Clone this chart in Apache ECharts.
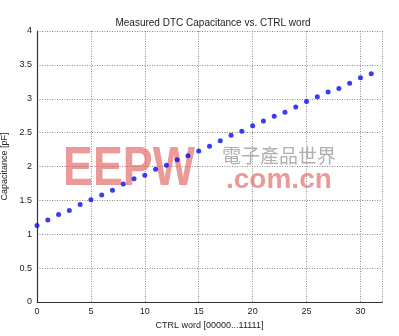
<!DOCTYPE html>
<html>
<head>
<meta charset="utf-8">
<script src="https://cdn.jsdelivr.net/npm/echarts@6/dist/echarts.min.js"></script>
<style>html,body{margin:0;padding:0;background:#fff;}#c{width:399px;height:336px;}</style>
</head>
<body>
<div id="c"></div>
<script>
const ctrlWords = [0,1,2,3,4,5,6,7,8,9,10,11,12,13,14,15,16,17,18,19,20,21,22,23,24,25,26,27,28,29,30,31];
const capacitance = [1.13,1.21,1.29,1.35,1.44,1.51,1.58,1.65,1.74,1.82,1.87,1.96,2.02,2.10,2.16,2.23,2.30,2.38,2.46,2.52,2.60,2.67,2.74,2.80,2.88,2.96,3.03,3.10,3.15,3.23,3.31,3.37];
const xTicks = [0,5,10,15,20,25,30];
const yTicks = [0,0.5,1,1.5,2,2.5,3,3.5,4];

const chart = echarts.init(document.getElementById('c'), null, {renderer:'canvas'});
const font = 'Liberation Sans, Arial, sans-serif';
chart.setOption({
  animation: false,
  title: {
    text: 'Measured DTC Capacitance vs. CTRL word',
    left: 208, top: 13, textAlign: 'center',
    textStyle: {fontSize: 10, fontWeight: 'normal', color: '#222', fontFamily: font}
  },
  grid: {left: 37, right: 17, top: 31, bottom: 34, outerBoundsMode: 'none', containLabel: false},
  xAxis: {
    type: 'value', min: 0, max: 32, interval: 5,
    name: 'CTRL word [00000...11111]', nameLocation: 'middle', nameGap: 19,
    nameTextStyle: {fontSize: 9, color: '#222', fontFamily: font},
    axisLine: {show: true, lineStyle: {color: '#333', width: 1.2}},
    axisTick: {show: false},
    axisLabel: {fontSize: 9, color: '#222', fontFamily: font, margin: 5,
      formatter: v => xTicks.includes(v) ? String(v) : ''},
    splitLine: {show: true, lineStyle: {color: '#8a8a8a', type: [1,1.5], width: 1}}
  },
  yAxis: {
    type: 'value', min: 0, max: 4, interval: 0.5,
    name: 'Capacitance [pF]', nameLocation: 'middle', nameGap: 22, nameRotate: 90,
    nameTextStyle: {fontSize: 9, color: '#222', fontFamily: font},
    axisLine: {show: true, lineStyle: {color: '#333', width: 1.2}},
    axisTick: {show: false},
    axisLabel: {fontSize: 9, color: '#222', fontFamily: font, margin: 5,
      formatter: v => yTicks.includes(v) ? String(v) : ''},
    splitLine: {show: true, lineStyle: {color: '#8a8a8a', type: [1,1.5], width: 1}}
  },
  graphic: [
    {type: 'text', left: 63, top: 142, z: 1, silent: true,
      style: {text: 'EEPW', font: 'bold 56px Liberation Sans, Arial, sans-serif', fill: 'rgba(222,90,90,0.62)'},
      scaleX: 0.8},
    {type: 'text', left: 222, top: 146, z: 1, silent: true,
      style: {text: '電子產品世界', font: '19px "Noto Sans CJK TC"', fill: 'rgba(150,150,150,0.75)'}},
    {type: 'text', left: 226, top: 166, z: 1, silent: true,
      style: {text: '.com.cn', font: 'bold 28px Liberation Sans, Arial, sans-serif', fill: 'rgba(222,90,90,0.62)'}}
  ],
  series: [{
    type: 'scatter', z: 5,
    data: ctrlWords.map((x, i) => [x, capacitance[i]]),
    symbol: 'circle', symbolSize: 5,
    itemStyle: {color: '#0a0af0'}
  }]
});
</script>
</body>
</html>
